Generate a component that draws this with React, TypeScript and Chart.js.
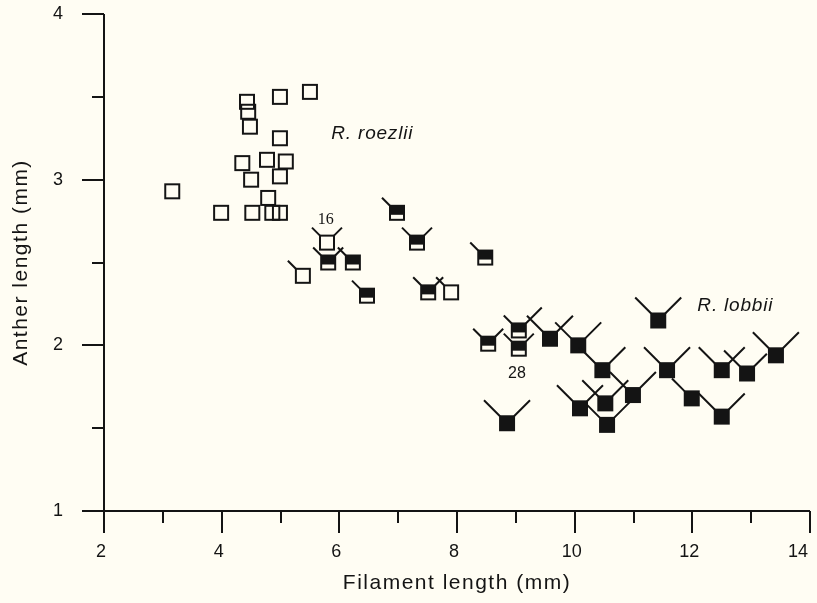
import React, { useEffect, useRef } from 'react';
import { Chart, registerables } from 'chart.js';

Chart.register(...registerables);

// ---------------- data ----------------
const xTickLabels = [2, 4, 6, 8, 10, 12, 14];
const yTickLabels = [1, 2, 3, 4];
const xTitle = 'Filament length (mm)';
const yTitle = 'Anther length (mm)';

// R. roezlii (open squares, no arms)
const roezliiX = [4.43, 4.45, 4.48, 4.99, 5.5, 4.99, 4.35, 4.77, 5.09, 4.99, 4.5, 4.79, 3.16, 3.99, 4.52, 4.86, 4.99];
const roezliiY = [3.47, 3.41, 3.32, 3.5, 3.53, 3.25, 3.1, 3.12, 3.11, 3.02, 3.0, 2.89, 2.93, 2.8, 2.8, 2.8, 2.8];

// intermediates drawn as open squares with arms
const openArmX = [5.79, 5.38, 7.9];
const openArmY = [2.62, 2.42, 2.32];
const openArmL = [0.5, 0.5, 0.5];
const openArmR = [0.5, 0, 0];

// intermediates drawn as half-filled squares with arms
const halfX = [5.81, 6.23, 6.47, 6.98, 7.32, 8.48, 7.51, 8.53, 9.05, 9.05];
const halfY = [2.5, 2.5, 2.3, 2.8, 2.62, 2.53, 2.32, 2.01, 2.09, 1.98];
const halfL = [0.5, 0.5, 0.5, 0.5, 0.5, 0.5, 0.5, 0.5, 0.5, 0.5];
const halfR = [0.5, 0, 0, 0, 0.5, 0, 0.5, 0.5, 1, 0.5];

// R. lobbii (filled squares with arms)
const lobbiiX = [9.58, 10.06, 10.47, 10.99, 10.09, 10.52, 10.55, 8.85, 11.42, 11.57, 11.99, 12.5, 12.5, 12.93, 13.42];
const lobbiiY = [2.04, 2.0, 1.85, 1.7, 1.62, 1.65, 1.52, 1.53, 2.15, 1.85, 1.68, 1.57, 1.85, 1.83, 1.94];
const lobbiiL = [1, 1, 1, 1, 1, 1, 1, 1, 1, 1, 0.8, 1, 1, 1, 1];
const lobbiiR = [1, 1, 1, 1, 1, 1, 1, 1, 1, 1, 0, 1, 1, 0.8, 1];

// text annotations
const noteText = ['R. roezlii', 'R. lobbii', '16', '28'];
const noteX = [6.56, 12.73, 5.77, 9.02];
const noteY = [3.28, 2.24, 2.76, 1.83];

// ---------------- styles ----------------
const INK = '#141414';
const PAPER = '#fffdf3';
const SANS = '"Liberation Sans", Arial, Helvetica, sans-serif';
const noteFont = [
  `italic 19px ${SANS}`,
  `italic 19px ${SANS}`,
  '16px "Liberation Serif", "Times New Roman", serif',
  `16px ${SANS}`,
];
const noteSpacing = ['0.8px', '0.8px', '0px', '0px'];

function makeMarker(kind: 'open' | 'half' | 'filled'): HTMLCanvasElement {
  const c = document.createElement('canvas');
  c.width = 18;
  c.height = 18;
  const ctx = c.getContext('2d') as CanvasRenderingContext2D;
  if (kind === 'filled') {
    ctx.fillStyle = INK;
    ctx.fillRect(1, 1, 16, 16);
  } else if (kind === 'half') {
    ctx.fillStyle = PAPER;
    ctx.fillRect(1, 1, 16, 16);
    ctx.fillStyle = INK;
    ctx.fillRect(1, 1, 16, 10);
    ctx.strokeStyle = INK;
    ctx.lineWidth = 2;
    ctx.strokeRect(2, 2, 14, 14);
  } else {
    ctx.strokeStyle = INK;
    ctx.lineWidth = 2;
    ctx.strokeRect(2, 2, 14, 14);
  }
  return c;
}

const zip = (xs: number[], ys: number[]) => xs.map((x, i) => ({ x, y: ys[i] }));

const paperPlugin = {
  id: 'paperBg',
  beforeDraw(chart: any) {
    const { ctx, width, height } = chart;
    ctx.save();
    ctx.fillStyle = PAPER;
    ctx.fillRect(0, 0, width, height);
    ctx.restore();
  },
};

const axesPlugin = {
  id: 'paperAxes',
  beforeDatasetsDraw(chart: any) {
    const { ctx, chartArea } = chart;
    const xs = chart.scales.x;
    const ys = chart.scales.y;
    ctx.save();
    ctx.strokeStyle = INK;
    ctx.lineWidth = 2;
    ctx.lineCap = 'butt';
    ctx.beginPath();
    ctx.moveTo(chartArea.left, chartArea.top);
    ctx.lineTo(chartArea.left, chartArea.bottom);
    ctx.moveTo(chartArea.left, chartArea.bottom);
    ctx.lineTo(chartArea.right, chartArea.bottom);
    for (let v = ys.min; v <= ys.max + 1e-9; v += 0.5) {
      const p = Math.round(ys.getPixelForValue(v));
      const major = Math.abs(v - Math.round(v)) < 1e-6;
      ctx.moveTo(chartArea.left, p);
      ctx.lineTo(chartArea.left - (major ? 22 : 12), p);
    }
    for (let v = xs.min; v <= xs.max + 1e-9; v += 1) {
      const p = Math.round(xs.getPixelForValue(v));
      const major = Math.round(v) % 2 === 0;
      ctx.moveTo(p, chartArea.bottom);
      ctx.lineTo(p, chartArea.bottom + (major ? 22 : 12));
    }
    ctx.stroke();

    // x tick labels
    ctx.fillStyle = INK;
    ctx.font = `18px ${SANS}`;
    ctx.textAlign = 'center';
    ctx.textBaseline = 'middle';
    xTickLabels.forEach((v) => {
      const t = String(v);
      const w = ctx.measureText(t).width;
      const cx = Math.min(xs.getPixelForValue(v) - 3, chart.width - 9 - w / 2);
      ctx.fillText(t, cx, chartArea.bottom + 41);
    });

    // axis titles
    ctx.font = `21px ${SANS}`;
    (ctx as any).letterSpacing = '1.5px';
    ctx.fillText(xTitle, (chartArea.left + chartArea.right) / 2, 583);
    ctx.translate(21, (chartArea.top + chartArea.bottom) / 2);
    ctx.rotate(-Math.PI / 2);
    ctx.fillText(yTitle, 0, 0);
    ctx.restore();
  },
  afterDatasetsDraw(chart: any) {
    const { ctx } = chart;
    ctx.save();
    ctx.strokeStyle = INK;
    ctx.lineWidth = 2;
    ctx.beginPath();
    chart.data.datasets.forEach((ds: any, di: number) => {
      if (!ds.armL) return;
      const meta = chart.getDatasetMeta(di);
      meta.data.forEach((pt: any, i: number) => {
        const h = 7;
        const unit = 16;
        const l = ds.armL[i] * unit;
        const r = ds.armR[i] * unit;
        if (l > 0) {
          ctx.moveTo(pt.x - h, pt.y - h);
          ctx.lineTo(pt.x - h - l, pt.y - h - l);
        }
        if (r > 0) {
          ctx.moveTo(pt.x + h, pt.y - h);
          ctx.lineTo(pt.x + h + r, pt.y - h - r);
        }
      });
    });
    ctx.stroke();
    const xs = chart.scales.x;
    const ys = chart.scales.y;
    ctx.fillStyle = INK;
    ctx.textAlign = 'center';
    ctx.textBaseline = 'middle';
    noteText.forEach((t, i) => {
      ctx.font = noteFont[i];
      (ctx as any).letterSpacing = noteSpacing[i];
      ctx.fillText(t, xs.getPixelForValue(noteX[i]), ys.getPixelForValue(noteY[i]));
    });
    ctx.restore();
  },
};

const zeroPad = (s: any) => {
  s.paddingTop = 0;
  s.paddingBottom = 0;
  s.paddingLeft = 0;
  s.paddingRight = 0;
};

export default function App() {
  const ref = useRef<HTMLCanvasElement | null>(null);

  useEffect(() => {
    if (!ref.current) return;
    const openM = makeMarker('open');
    const halfM = makeMarker('half');
    const fillM = makeMarker('filled');
    const base = { showLine: false, clip: false as any, pointRadius: 9, pointHoverRadius: 9 };
    const chart = new Chart(ref.current, {
      type: 'scatter',
      data: {
        datasets: [
          { ...base, label: 'R. roezlii', data: zip(roezliiX, roezliiY), pointStyle: openM },
          { ...base, label: 'open intermediates', data: zip(openArmX, openArmY), pointStyle: openM, armL: openArmL, armR: openArmR } as any,
          { ...base, label: 'half intermediates', data: zip(halfX, halfY), pointStyle: halfM, armL: halfL, armR: halfR } as any,
          { ...base, label: 'R. lobbii', data: zip(lobbiiX, lobbiiY), pointStyle: fillM, armL: lobbiiL, armR: lobbiiR } as any,
        ],
      },
      options: {
        animation: false,
        responsive: false,
        events: [],
        layout: { autoPadding: false, padding: { left: 0, right: 7, top: 14, bottom: 0 } },
        plugins: { legend: { display: false }, tooltip: { enabled: false } },
        scales: {
          x: {
            type: 'linear',
            min: 2,
            max: 14,
            grid: { display: false },
            border: { display: false },
            afterBuildTicks: (s: any) => {
              s.ticks = xTickLabels.map((v) => ({ value: v }));
            },
            afterFit: (s: any) => {
              s.height = 92;
              zeroPad(s);
            },
            ticks: { display: false },
            title: { display: false },
          },
          y: {
            type: 'linear',
            min: 1,
            max: 4,
            grid: { display: false },
            border: { display: false },
            afterBuildTicks: (s: any) => {
              s.ticks = yTickLabels.map((v) => ({ value: v }));
            },
            afterFit: (s: any) => {
              s.width = 104;
              zeroPad(s);
            },
            ticks: { color: INK, padding: 33, font: { family: SANS, size: 18 } },
            title: { display: false },
          },
        },
      },
      plugins: [paperPlugin, axesPlugin],
    } as any);
    return () => chart.destroy();
  }, []);

  return (
    <div style={{ position: 'fixed', left: 0, top: 0, width: 817, height: 603, background: PAPER }}>
      <canvas ref={ref} width={817} height={603} style={{ display: 'block', width: 817, height: 603 }} />
    </div>
  );
}
